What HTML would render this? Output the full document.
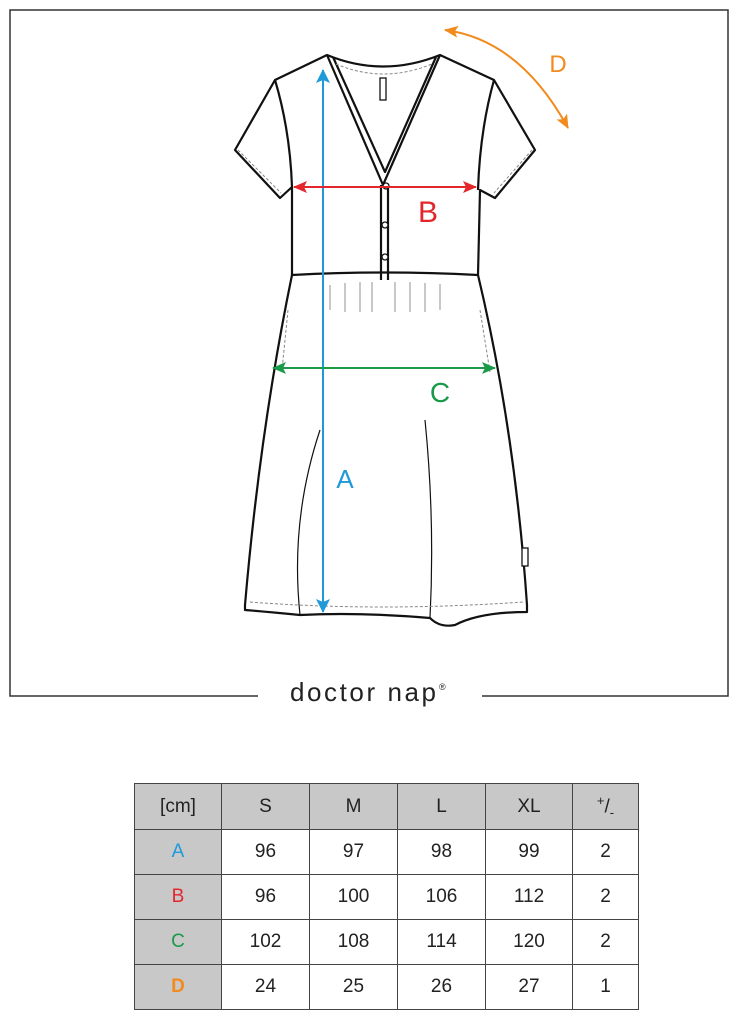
<!DOCTYPE html>
<html><head><style>
body{margin:0;width:739px;height:1020px;background:#fff;position:relative;font-family:"Liberation Sans",sans-serif;overflow:hidden}
table{position:absolute;left:134px;top:783px;border-collapse:collapse;}
td{border:1.5px solid #444;text-align:center;font-size:19px;color:#222;padding:0;height:44px}
td.h{background:#c8c8c8}
</style></head><body>
<svg width="739" height="1020" style="position:absolute;left:0;top:0">
<defs>
<marker id="mr" markerWidth="14" markerHeight="12" refX="13" refY="6" orient="auto-start-reverse" markerUnits="userSpaceOnUse"><path d="M0,0 L14,6 L0,12 L3,6Z" fill="#e3262b"/></marker>
<marker id="mg" markerWidth="14" markerHeight="12" refX="13" refY="6" orient="auto-start-reverse" markerUnits="userSpaceOnUse"><path d="M0,0 L14,6 L0,12 L3,6Z" fill="#1a9a48"/></marker>
<marker id="mo" markerWidth="14" markerHeight="12" refX="13" refY="6" orient="auto-start-reverse" markerUnits="userSpaceOnUse"><path d="M0,0 L14,6 L0,12 L3,6Z" fill="#f28a1e"/></marker>
<marker id="mb2" markerWidth="14" markerHeight="14" refX="13" refY="7" orient="auto-start-reverse" markerUnits="userSpaceOnUse"><path d="M0,0 L14,7 L0,14 L3,7Z" fill="#1e9ad8"/></marker>
</defs>
<path d="M258,696 H10 V10 H728 V696 H482" fill="none" stroke="#333" stroke-width="1.5"/>
<g fill="none" stroke="#111" stroke-width="2.2" stroke-linejoin="round">
<path d="M327,55 Q383,78 440,55 L494,80 L535,150 L495,198 L480,190 L478,275 Q385,270 292,275 L292,187 L280,198 L235,150 L275,80 Z"/>
<path d="M275,80 Q290,130 292,187"/><path d="M494,80 Q480,130 478,190"/>
<path d="M327,55 L383,185 L440,55"/><path d="M333,57 L385,172 L436,57"/>
<path d="M381,185 V280 M388,185 V280"/>
<path d="M292,275 Q260,430 245,605 L245,610 Q270,612 300,615 Q360,612 430,618 Q440,628 455,625 Q480,612 527,612 L527,605 Q515,430 478,275"/>
<path d="M300,615 Q290,520 320,430" stroke-width="1.2"/><path d="M430,618 Q435,520 425,420" stroke-width="1.2"/>
</g>
<g fill="#fff" stroke="#111" stroke-width="1.3"><circle cx="386" cy="186" r="3"/><circle cx="385" cy="225" r="3"/><circle cx="385" cy="257" r="3"/><rect x="380" y="78" width="6" height="22"/><rect x="522" y="548" width="6" height="18"/></g>
<g stroke="#888" stroke-width="1" stroke-dasharray="3,2" fill="none">
<path d="M238,150 L281,193 M532,150 L494,193 M336,64 Q383,84 432,64 M250,602 Q380,612 523,602 M288,310 L282,370 M480,310 L490,372"/>
</g>
<g stroke="#777" stroke-width="0.8"><path d="M330,285 V310 M345,283 V312 M360,282 V312 M372,282 V312 M395,282 V312 M410,282 V312 M425,283 V312 M440,284 V310"/></g>
<line x1="323" y1="70" x2="323" y2="612" stroke="#1e9ad8" stroke-width="2" marker-start="url(#mb2)" marker-end="url(#mb2)"/>
<line x1="294" y1="187" x2="476" y2="187" stroke="#e3262b" stroke-width="2" marker-start="url(#mr)" marker-end="url(#mr)"/>
<line x1="273" y1="368" x2="495" y2="368" stroke="#1a9a48" stroke-width="2" marker-start="url(#mg)" marker-end="url(#mg)"/>
<path d="M445,30 Q520,40 568,128" fill="none" stroke="#f28a1e" stroke-width="2" marker-start="url(#mo)" marker-end="url(#mo)"/>
<text x="345" y="488" font-size="26" fill="#1e9ad8" text-anchor="middle" font-family="Liberation Sans">A</text>
<text x="428" y="222" font-size="30" fill="#e3262b" text-anchor="middle" font-family="Liberation Sans">B</text>
<text x="440" y="402" font-size="28" fill="#1a9a48" text-anchor="middle" font-family="Liberation Sans">C</text>
<text x="558" y="72" font-size="24" fill="#f28a1e" text-anchor="middle" font-family="Liberation Sans">D</text>
<text x="290" y="701" font-size="26" fill="#222" font-family="Liberation Sans" textLength="146" lengthAdjust="spacing">doctor nap</text>
<text x="439" y="690" font-size="9" fill="#222" font-family="Liberation Sans">®</text>
</svg>
<table>
<tr><td class="h" style="width:86px;height:45px">[cm]</td><td class="h" style="width:87px">S</td><td class="h" style="width:87px">M</td><td class="h" style="width:87px">L</td><td class="h" style="width:86px">XL</td><td class="h" style="width:65px"><sup style="font-size:13px">+</sup>/<sub style="font-size:13px">-</sub></td></tr>
<tr><td class="h" style="color:#1e9ad8">A</td><td>96</td><td>97</td><td>98</td><td>99</td><td>2</td></tr>
<tr><td class="h" style="color:#e3262b">B</td><td>96</td><td>100</td><td>106</td><td>112</td><td>2</td></tr>
<tr><td class="h" style="color:#1a9a48">C</td><td>102</td><td>108</td><td>114</td><td>120</td><td>2</td></tr>
<tr><td class="h" style="color:#f28a1e;font-weight:bold">D</td><td>24</td><td>25</td><td>26</td><td>27</td><td>1</td></tr>
</table>
</body></html>
